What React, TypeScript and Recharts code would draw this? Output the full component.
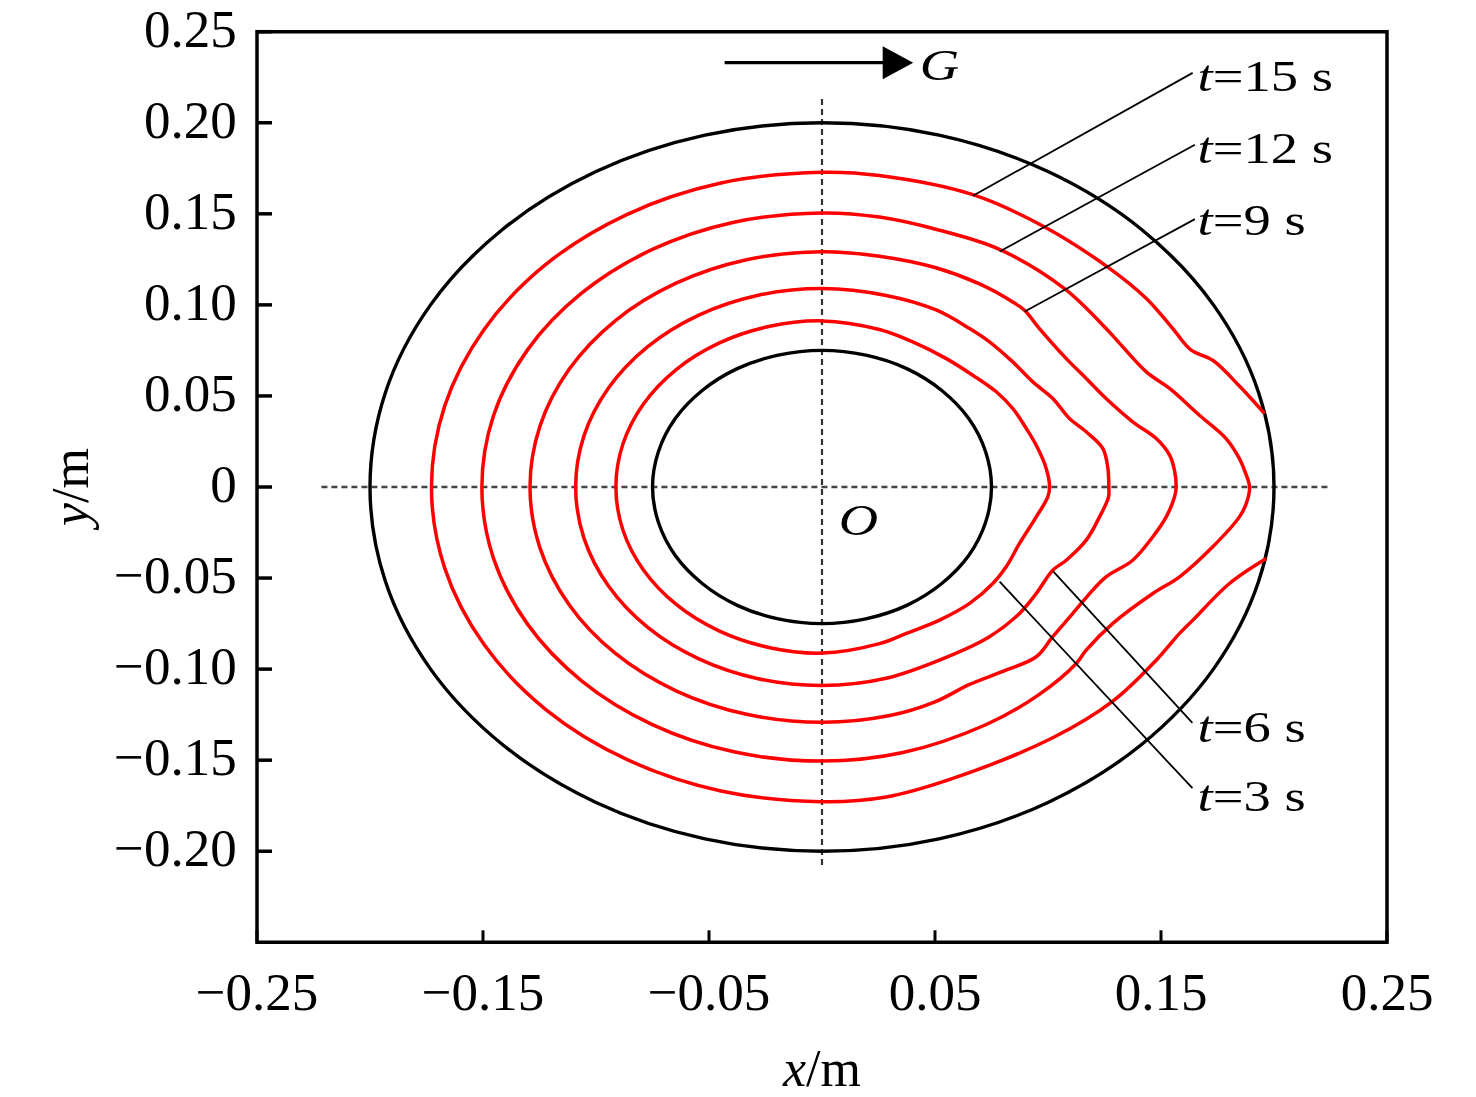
import React from 'react';
import { LineChart, Line, XAxis, YAxis, ReferenceArea, ReferenceLine, ReferenceDot, Label } from 'recharts';

type Pt = [number, number];

const SERIF = '"Liberation Serif", "Times New Roman", Times, serif';

// axis ticks
const xTicks = [-0.25, -0.15, -0.05, 0.05, 0.15, 0.25];
const yTicks = [0.25, 0.2, 0.15, 0.1, 0.05, 0, -0.05, -0.1, -0.15, -0.2];

// outer wall (r = 0.20 m)
const outerWall: Pt[] = [
  [0.2, 0], [0.1932, 0.0518], [0.1732, 0.1], [0.1414, 0.1414], [0.1, 0.1732], [0.0518, 0.1932], [0, 0.2],
  [-0.0518, 0.1932], [-0.1, 0.1732], [-0.1414, 0.1414], [-0.1732, 0.1], [-0.1932, 0.0518], [-0.2, 0],
  [-0.1932, -0.0518], [-0.1732, -0.1], [-0.1414, -0.1414], [-0.1, -0.1732], [-0.0518, -0.1932], [0, -0.2],
  [0.0518, -0.1932], [0.1, -0.1732], [0.1414, -0.1414], [0.1732, -0.1], [0.1932, -0.0518], [0.2, 0],
];

// inner wall (r = 0.075 m)
const innerWall: Pt[] = [
  [0.075, 0], [0.0724, 0.0194], [0.065, 0.0375], [0.053, 0.053], [0.0375, 0.065], [0.0194, 0.0724], [0, 0.075],
  [-0.0194, 0.0724], [-0.0375, 0.065], [-0.053, 0.053], [-0.065, 0.0375], [-0.0724, 0.0194], [-0.075, 0],
  [-0.0724, -0.0194], [-0.065, -0.0375], [-0.053, -0.053], [-0.0375, -0.065], [-0.0194, -0.0724], [0, -0.075],
  [0.0194, -0.0724], [0.0375, -0.065], [0.053, -0.053], [0.065, -0.0375], [0.0724, -0.0194], [0.075, 0],
];

// t = 3 s front
const frontT3: Pt[] = [
  [0.1007, 0], [0.0992, 0.0102], [0.0948, 0.0229], [0.0904, 0.0321], [0.0844, 0.0431], [0.0771, 0.0523],
  [0.0667, 0.0614], [0.055, 0.0705], [0.0402, 0.0797], [0.0254, 0.0865], [0, 0.0912],
  [-0.0236, 0.0881], [-0.0456, 0.079], [-0.0645, 0.0645], [-0.079, 0.0456], [-0.0881, 0.0236], [-0.0912, 0],
  [-0.0881, -0.0236], [-0.079, -0.0456], [-0.0645, -0.0645], [-0.0456, -0.079], [-0.0236, -0.0881], [0, -0.0912],
  [0.0254, -0.086], [0.0373, -0.0804], [0.052, -0.0731], [0.0653, -0.0639], [0.0756, -0.053],
  [0.0815, -0.0438], [0.0874, -0.031], [0.0948, -0.0164], [0.0999, -0.0054], [0.1007, 0],
];

// t = 6 s front
const frontT6: Pt[] = [
  [0.1269, 0], [0.1265, 0.0102], [0.1243, 0.0211], [0.1169, 0.0303], [0.1095, 0.0376], [0.1021, 0.0486],
  [0.0933, 0.0577], [0.0844, 0.0687], [0.0741, 0.0797], [0.0653, 0.087], [0.0505, 0.0972], [0.0284, 0.1052], [0, 0.109],
  [-0.0282, 0.1053], [-0.0545, 0.0944], [-0.0771, 0.0771], [-0.0944, 0.0545], [-0.1053, 0.0282], [-0.109, 0],
  [-0.1053, -0.0282], [-0.0944, -0.0545], [-0.0771, -0.0771], [-0.0545, -0.0944], [-0.0282, -0.1053], [0, -0.109],
  [0.0284, -0.105], [0.055, -0.0935], [0.0741, -0.0822], [0.0874, -0.0694], [0.0948, -0.0585], [0.1021, -0.0457],
  [0.1081, -0.0402], [0.1169, -0.0292], [0.1228, -0.0164], [0.1268, -0.0054], [0.1269, 0],
];

// t = 9 s front
const frontT9: Pt[] = [
  [0.1567, 0], [0.156, 0.009], [0.1538, 0.0175], [0.1479, 0.0266], [0.1375, 0.0358], [0.1257, 0.0486],
  [0.1169, 0.0596], [0.1081, 0.0705], [0.0962, 0.087], [0.0896, 0.097], [0.0844, 0.1016], [0.0697, 0.1115],
  [0.05, 0.1205], [0.0254, 0.1267], [0, 0.1292],
  [-0.0334, 0.1248], [-0.0646, 0.1119], [-0.0914, 0.0914], [-0.1119, 0.0646], [-0.1248, 0.0334], [-0.1292, 0],
  [-0.1248, -0.0334], [-0.1119, -0.0646], [-0.0914, -0.0914], [-0.0646, -0.1119], [-0.0334, -0.1248], [0, -0.1292],
  [0.03, -0.1255], [0.05, -0.118], [0.0653, -0.1084], [0.08, -0.1012], [0.0948, -0.0932], [0.1021, -0.0822],
  [0.111, -0.0694], [0.1198, -0.0566], [0.1257, -0.0493], [0.1375, -0.0402], [0.1464, -0.0273], [0.1523, -0.0164],
  [0.156, -0.0054], [0.1567, 0],
];

// t = 12 s front
const frontT12: Pt[] = [
  [0.1892, 0], [0.187, 0.009], [0.1847, 0.0156], [0.1788, 0.0266], [0.167, 0.0394], [0.1538, 0.0541],
  [0.1435, 0.0632], [0.1316, 0.079], [0.1257, 0.087], [0.1073, 0.1089], [0.0785, 0.1305], [0.052, 0.141],
  [0.0254, 0.1482], [0, 0.1505],
  [-0.039, 0.1454], [-0.0753, 0.1303], [-0.1064, 0.1064], [-0.1303, 0.0753], [-0.1454, 0.039], [-0.1505, 0],
  [-0.1454, -0.039], [-0.1303, -0.0753], [-0.1064, -0.1064], [-0.0753, -0.1303], [-0.039, -0.1454], [0, -0.1505],
  [0.0358, -0.1458], [0.0727, -0.1304], [0.096, -0.114], [0.1125, -0.0969], [0.1169, -0.0896], [0.1287, -0.0749],
  [0.1464, -0.0585], [0.1582, -0.0493], [0.1729, -0.0328], [0.1847, -0.0164], [0.1877, -0.0091], [0.1892, 0],
];

// t = 15 s front (cut by the outer wall)
const frontT15: Pt[] = [
  [0.1958, 0.0403], [0.185, 0.055], [0.1729, 0.0696], [0.1634, 0.0751], [0.1552, 0.087], [0.1435, 0.1035],
  [0.1257, 0.1214], [0.0985, 0.1428], [0.0667, 0.1605], [0.0254, 0.171], [0, 0.1728],
  [-0.0447, 0.1669], [-0.0864, 0.1496], [-0.1222, 0.1222], [-0.1496, 0.0864], [-0.1669, 0.0447], [-0.1728, 0],
  [-0.1669, -0.0447], [-0.1496, -0.0864], [-0.1222, -0.1222], [-0.0864, -0.1496], [-0.0447, -0.1669], [0, -0.1728],
  [0.0284, -0.1702], [0.0579, -0.16], [0.1021, -0.1377], [0.1287, -0.1176], [0.1479, -0.0951], [0.1582, -0.0804],
  [0.1641, -0.0731], [0.1803, -0.053], [0.1966, -0.0393],
];

// guide lines through the centre
const vGuide: Pt[] = [[0, 0.213], [0, -0.209]];
const hGuide: Pt[] = [[-0.2215, 0], [0.2254, 0]];

// time labels: text, anchor of text, leader line (from curve to label)
const timeLabels = [
  { t: '15', at: [0.1662, 0.2175], from: [0.0668, 0.1599], to: [0.164, 0.2274] },
  { t: '12', at: [0.1662, 0.1777], from: [0.0786, 0.1293], to: [0.165, 0.1879] },
  { t: '9', at: [0.1662, 0.1385], from: [0.0897, 0.0964], to: [0.165, 0.1471] },
  { t: '6', at: [0.1662, -0.1402], from: [0.1022, -0.0462], to: [0.1639, -0.1295] },
  { t: '3', at: [0.1662, -0.1777], from: [0.0786, -0.052], to: [0.1639, -0.1654] },
];

const gravityArrow = { from: [-0.0431, 0.233], head: [0.0273, 0.233], label: [0.0432, 0.2236] };
const originLabel = [0.0074, -0.0262];

const toRows = (pts: Pt[]) => pts.map(([x, y]) => ({ x, y }));

const wallSeries = [
  { key: 'outer', pts: outerWall },
  { key: 'inner', pts: innerWall },
];
const frontSeries = [
  { key: 't3', pts: frontT3 },
  { key: 't6', pts: frontT6 },
  { key: 't9', pts: frontT9 },
  { key: 't12', pts: frontT12 },
  { key: 't15', pts: frontT15 },
];

// centripetal Catmull-Rom curve factory (closed when first point equals last)
const smoothCurve: any = (context: any) => {
  let pts: number[][] = [];
  return {
    areaStart() {},
    areaEnd() {},
    lineStart() {
      pts = [];
    },
    point(x: number, y: number) {
      pts.push([+x, +y]);
    },
    lineEnd() {
      const n = pts.length;
      if (!n) return;
      const closed =
        n > 3 && Math.abs(pts[0][0] - pts[n - 1][0]) < 0.5 && Math.abs(pts[0][1] - pts[n - 1][1]) < 0.5;
      const m = n - 1;
      const get = (i: number) => {
        if (closed) return pts[((i % m) + m) % m];
        return pts[Math.max(0, Math.min(n - 1, i))];
      };
      const dist = (a: number[], b: number[]) => Math.hypot(a[0] - b[0], a[1] - b[1]);
      const alpha = 0.5;
      context.moveTo(pts[0][0], pts[0][1]);
      for (let i = 0; i < n - 1; i++) {
        const p0 = get(i - 1);
        const p1 = get(i);
        const p2 = get(i + 1);
        const p3 = get(i + 2);
        const l01a = Math.pow(dist(p0, p1), alpha);
        const l12a = Math.pow(dist(p1, p2), alpha);
        const l23a = Math.pow(dist(p2, p3), alpha);
        const l01_2a = l01a * l01a;
        const l12_2a = l12a * l12a;
        const l23_2a = l23a * l23a;
        let c1x = p1[0];
        let c1y = p1[1];
        let c2x = p2[0];
        let c2y = p2[1];
        if (l01a > 1e-9) {
          const a = 2 * l01_2a + 3 * l01a * l12a + l12_2a;
          const nn = 3 * l01a * (l01a + l12a);
          c1x = (p1[0] * a - p0[0] * l12_2a + p2[0] * l01_2a) / nn;
          c1y = (p1[1] * a - p0[1] * l12_2a + p2[1] * l01_2a) / nn;
        }
        if (l23a > 1e-9) {
          const b = 2 * l23_2a + 3 * l23a * l12a + l12_2a;
          const mm = 3 * l23a * (l23a + l12a);
          c2x = (p2[0] * b + p1[0] * l23_2a - p3[0] * l12_2a) / mm;
          c2y = (p2[1] * b + p1[1] * l23_2a - p3[1] * l12_2a) / mm;
        }
        context.bezierCurveTo(c1x, c1y, c2x, c2y, p2[0], p2[1]);
      }
    },
  };
};

const fmt = (v: number) => {
  if (Math.abs(v) < 1e-9) return '0';
  const s = Math.abs(v).toFixed(2);
  return v < 0 ? '\u2212' + s : s;
};

const XTick = (props: any) => {
  const { x, y, payload } = props;
  return (
    <text x={x} y={y + 67.7} textAnchor="middle" fontFamily={SERIF} fontSize={53} fill="#000">
      {fmt(payload.value)}
    </text>
  );
};

const YTick = (props: any) => {
  const { x, y, payload } = props;
  return (
    <text x={x - 20.3} y={y + 15} textAnchor="end" fontFamily={SERIF} fontSize={53} fill="#000">
      {fmt(payload.value)}
    </text>
  );
};

const XTitle = (props: any) => {
  const vb = props.viewBox || { x: 257, y: 942.3, width: 1130, height: 100 };
  return (
    <text x={vb.x + vb.width / 2} y={vb.y + 144} textAnchor="middle" fontFamily={SERIF} fontSize={52} fill="#000">
      <tspan fontStyle="italic">x</tspan>/m
    </text>
  );
};

const YTitle = (props: any) => {
  const vb = props.viewBox || { x: 0, y: 31.7, width: 257, height: 910.6 };
  const cy = vb.y + vb.height / 2;
  return (
    <text
      transform={`translate(${vb.x + 88},${cy}) rotate(-90)`}
      textAnchor="middle"
      fontFamily={SERIF}
      fontSize={52}
      fill="#000"
    >
      <tspan fontStyle="italic">y</tspan>/m
    </text>
  );
};

// text stretched like the embedded figure
const stretched = (cx: number, cy: number, content: React.ReactNode) => (
  <text
    transform={`translate(${cx},${cy}) scale(1.24,1)`}
    x={0}
    y={0}
    fontFamily={SERIF}
    fontSize={44}
    fill="#000"
  >
    {content}
  </text>
);

export default function App() {
  return (
    <div style={{ position: 'absolute', left: 0, top: 0, background: '#fff' }}>
      <LineChart
        width={1476}
        height={1097}
        margin={{ top: 31.7, right: 89, bottom: 54.7, left: 0 }}
      >
        <XAxis
          type="number"
          dataKey="x"
          domain={[-0.25, 0.25]}
          ticks={xTicks}
          interval={0}
          allowDataOverflow
          axisLine={false}
          tickLine={{ stroke: '#000', strokeWidth: 3 }}
          tickSize={-12}
          tickMargin={12}
          tick={(p: any) => <XTick {...p} />}
          height={100}
          label={<Label content={XTitle} />}
        />
        <YAxis
          type="number"
          dataKey="y"
          domain={[-0.25, 0.25]}
          ticks={yTicks}
          interval={0}
          allowDataOverflow
          axisLine={false}
          tickLine={{ stroke: '#000', strokeWidth: 3.5 }}
          tickSize={-15}
          tickMargin={15}
          tick={(p: any) => <YTick {...p} />}
          width={257}
          label={<Label content={YTitle} />}
        />

        <ReferenceLine
          segment={vGuide.map(([x, y]) => ({ x, y }))}
          stroke="#333"
          strokeWidth={2.2}
          strokeDasharray="6 4"
        />
        <ReferenceLine
          segment={hGuide.map(([x, y]) => ({ x, y }))}
          stroke="#444"
          strokeWidth={2.6}
          strokeDasharray="6 4"
        />

        {wallSeries.map((s) => (
          <Line
            key={s.key}
            data={toRows(s.pts)}
            dataKey="y"
            type={smoothCurve}
            stroke="#000"
            strokeWidth={3.4}
            dot={false}
            activeDot={false}
            isAnimationActive={false}
            legendType="none"
          />
        ))}
        {frontSeries.map((s) => (
          <Line
            key={s.key}
            data={toRows(s.pts)}
            dataKey="y"
            type={smoothCurve}
            stroke="#ff0000"
            strokeWidth={3.5}
            dot={false}
            activeDot={false}
            isAnimationActive={false}
            legendType="none"
          />
        ))}

        {timeLabels.map((l) => (
          <ReferenceLine
            key={'ll' + l.t}
            segment={[
              { x: l.from[0], y: l.from[1] },
              { x: l.to[0], y: l.to[1] },
            ]}
            stroke="#000"
            strokeWidth={1.8}
          />
        ))}
        {timeLabels.map((l) => (
          <ReferenceDot
            key={'lt' + l.t}
            x={l.at[0]}
            y={l.at[1]}
            r={0}
            shape={(p: any) =>
              stretched(
                p.cx,
                p.cy,
                <>
                  <tspan fontStyle="italic">t</tspan>
                  {'=' + l.t + ' s'}
                </>
              )
            }
          />
        ))}

        <ReferenceLine
          segment={[
            { x: gravityArrow.from[0], y: gravityArrow.from[1] },
            { x: gravityArrow.head[0], y: gravityArrow.head[1] },
          ]}
          stroke="#000"
          strokeWidth={3.2}
        />
        <ReferenceDot
          x={gravityArrow.head[0]}
          y={gravityArrow.head[1]}
          r={0}
          shape={(p: any) => (
            <polygon
              points={`${p.cx - 1},${p.cy - 16.5} ${p.cx + 29.5},${p.cy} ${p.cx - 1},${p.cy + 16.5}`}
              fill="#000"
            />
          )}
        />
        <ReferenceDot
          x={gravityArrow.label[0]}
          y={gravityArrow.label[1]}
          r={0}
          shape={(p: any) => stretched(p.cx, p.cy, <tspan fontStyle="italic">G</tspan>)}
        />
        <ReferenceDot
          x={originLabel[0]}
          y={originLabel[1]}
          r={0}
          shape={(p: any) => stretched(p.cx, p.cy, <tspan fontStyle="italic">O</tspan>)}
        />

        <ReferenceArea x1={-0.25} x2={0.25} y1={-0.25} y2={0.25} fill="none" stroke="#000" strokeWidth={3.5} />
      </LineChart>
    </div>
  );
}
